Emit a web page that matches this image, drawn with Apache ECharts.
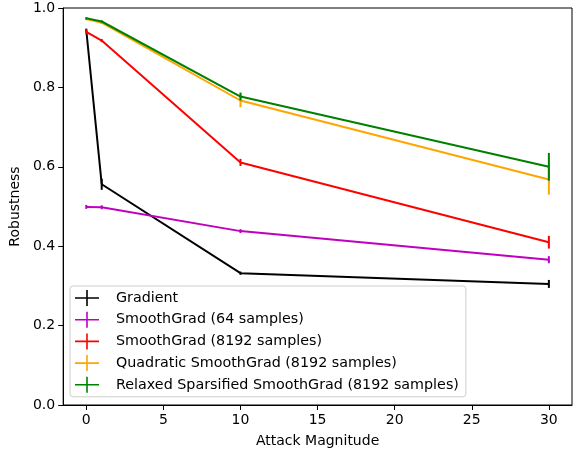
<!DOCTYPE html>
<html><head><meta charset="utf-8">
<script src="https://cdn.jsdelivr.net/npm/echarts@6/dist/echarts.min.js"></script>
<style>html,body{margin:0;padding:0;background:#fff}#c{width:573px;height:453px}</style>
</head><body><div id="c"></div>
<script>
const xTicks = [0, 5, 10, 15, 20, 25, 30];
const yTicks = [0, 0.2, 0.4, 0.6, 0.8, 1.0];
const attackX = [0, 1, 10, 30];
const names = ["Gradient", "SmoothGrad (64 samples)", "SmoothGrad (8192 samples)", "Quadratic SmoothGrad (8192 samples)", "Relaxed Sparsified SmoothGrad (8192 samples)"];
const colors = ["#000000", "#bf00bf", "#ff0000", "#ffa500", "#008000"];
const gradientY = [0.944, 0.556, 0.332, 0.305];
const gradientErr = [0.004, 0.014, 0.004, 0.010];
const sg64Y = [0.499, 0.498, 0.438, 0.366];
const sg64Err = [0.005, 0.005, 0.005, 0.009];
const sg8192Y = [0.940, 0.918, 0.611, 0.410];
const sg8192Err = [0.006, 0.004, 0.009, 0.016];
const quadY = [0.972, 0.963, 0.767, 0.568];
const quadErr = [0.003, 0.003, 0.017, 0.038];
const relaxedY = [0.974, 0.966, 0.777, 0.600];
const relaxedErr = [0.003, 0.003, 0.010, 0.035];

const allY = [gradientY, sg64Y, sg8192Y, quadY, relaxedY];
const allErr = [gradientErr, sg64Err, sg8192Err, quadErr, relaxedErr];
const font = "DejaVu Sans";
const series = [];
names.forEach((n, i) => {
  series.push({
    name: n, type: 'line', symbol: 'none', animation: false,
    data: attackX.map((x, j) => [x, allY[i][j]]),
    lineStyle: {color: colors[i], width: 2}, itemStyle: {color: colors[i]}, z: 2 + i * 2
  });
  series.push({
    name: n + ' err', type: 'custom', animation: false, z: 3 + i * 2,
    data: attackX.map((x, j) => [x, allY[i][j], allErr[i][j]]),
    renderItem: (params, api) => {
      const x = api.value(0), y = api.value(1), e = api.value(2);
      const p1 = api.coord([x, y - e]), p2 = api.coord([x, y + e]);
      return {type: 'line', shape: {x1: p1[0], y1: p1[1], x2: p2[0], y2: p2[1]},
        style: {stroke: colors[i], lineWidth: 2}};
    }
  });
});
const chart = echarts.init(document.getElementById('c'), null, {renderer: 'canvas'});
chart.setOption({
  animation: false,
  grid: {left: 63, right: 1, top: 8, bottom: 47, show: true, borderColor: '#000', borderWidth: 1, backgroundColor: 'transparent'},
  xAxis: {
    type: 'value', min: -1.5, max: 31.5,
    name: 'Attack Magnitude', nameLocation: 'middle', nameGap: 29,
    nameTextStyle: {color: '#000', fontFamily: font, fontSize: 14},
    axisLine: {show: true, onZero: false, lineStyle: {color: '#000', width: 1}},
    axisTick: {show: true, length: 5, lineStyle: {color: '#000'}, customValues: xTicks},
    axisLabel: {color: '#000', fontFamily: font, fontSize: 14, margin: 8, customValues: xTicks},
    splitLine: {show: false}
  },
  yAxis: {
    type: 'value', min: 0, max: 1, interval: 0.2,
    name: 'Robustness', nameLocation: 'middle', nameGap: 40,
    nameTextStyle: {color: '#000', fontFamily: font, fontSize: 14},
    axisLine: {show: true, onZero: false, lineStyle: {color: '#000', width: 1}},
    axisTick: {show: true, length: 5, lineStyle: {color: '#000'}, customValues: yTicks},
    axisLabel: {color: '#000', fontFamily: font, fontSize: 14, margin: 8, customValues: yTicks,
      formatter: v => v.toFixed(1)},
    splitLine: {show: false}
  },
  legend: {
    data: names.map(n => ({name: n, icon: 'path://M0,9 H30 V11 H0 Z M14,0 H16 V20 H14 Z'})),
    orient: 'vertical', left: 70, top: 286,
    itemWidth: 30, itemHeight: 16, itemGap: 5.7,
    padding: [4, 7, 4, 5],
    backgroundColor: 'rgba(255,255,255,0.8)', borderColor: '#cccccc', borderWidth: 1, borderRadius: 3,
    textStyle: {color: '#000', fontFamily: font, fontSize: 14.3, padding: [0, 0, 0, 9]},
    selectedMode: false
  },
  series: series
});
</script></body></html>
